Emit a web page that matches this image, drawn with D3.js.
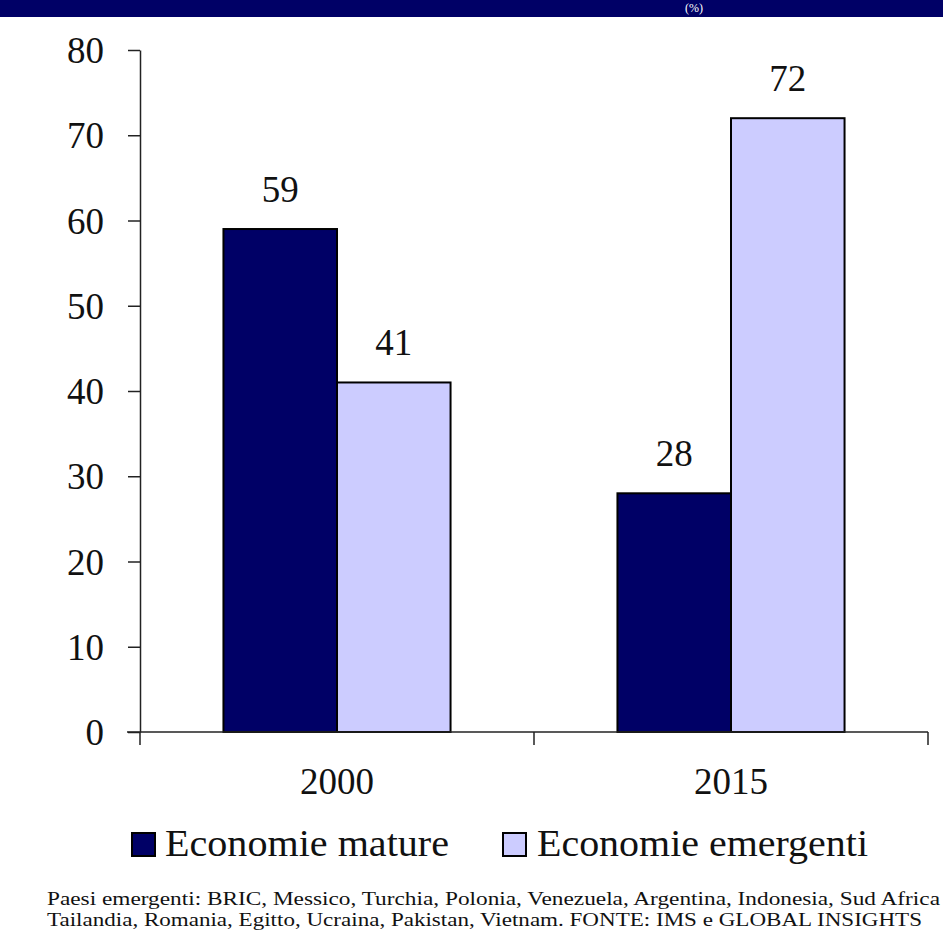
<!DOCTYPE html>
<html>
<head>
<meta charset="utf-8">
<script src="https://cdn.jsdelivr.net/npm/d3@7"></script>
<style>
  html, body { margin: 0; padding: 0; background: #fff; }
  svg { display: block; }
  text { font-family: "Liberation Serif", "Times New Roman", serif; fill: #111; }
</style>
</head>
<body>
<svg id="chart" width="943" height="932"></svg>
<script>
const categories = ["2000", "2015"];
const seriesNames = ["Economie mature", "Economie emergenti"];
const matureValues = [59, 28];
const emergingValues = [41, 72];
const yTicks = [0, 10, 20, 30, 40, 50, 60, 70, 80];
const titleFragment = "(%)";
const footnoteLines = [
  "Paesi emergenti: BRIC, Messico, Turchia, Polonia, Venezuela, Argentina, Indonesia, Sud Africa",
  "Tailandia, Romania, Egitto, Ucraina, Pakistan, Vietnam.  FONTE: IMS e GLOBAL INSIGHTS"
];

const colors = ["#000066", "#CCCCFF"];
const svg = d3.select("#chart");

// banner
svg.append("rect").attr("x", 0).attr("y", 0).attr("width", 943).attr("height", 17).attr("fill", "#000066");
svg.append("text").attr("x", 703).attr("y", 12).attr("text-anchor", "end")
  .attr("font-size", 12).style("fill", "#fff").text(titleFragment);

const x = d3.scaleBand().domain(categories).range([140, 928]).paddingInner(0).paddingOuter(0);
const xInner = d3.scaleBand().domain(seriesNames).range([0, x.bandwidth()]).paddingInner(0).paddingOuter(0.735);
const y = d3.scaleLinear().domain([0, 80]).range([732, 50]);

const data = categories.map((c, i) => ({cat: c, values: [matureValues[i], emergingValues[i]]}));

// bars
const groups = svg.append("g").selectAll("g").data(data).join("g")
  .attr("transform", d => `translate(${x(d.cat)},0)`);
groups.selectAll("rect").data(d => d.values.map((v, j) => ({name: seriesNames[j], v, j})))
  .join("rect")
  .attr("x", d => xInner(d.name))
  .attr("y", d => y(d.v))
  .attr("width", xInner.bandwidth())
  .attr("height", d => y(0) - y(d.v))
  .attr("fill", d => colors[d.j])
  .attr("stroke", "#000")
  .attr("stroke-width", 2);
groups.selectAll("text.val").data(d => d.values.map((v, j) => ({name: seriesNames[j], v, j})))
  .join("text").attr("class", "val")
  .attr("x", d => xInner(d.name) + xInner.bandwidth() / 2)
  .attr("y", d => y(d.v) - 27)
  .attr("text-anchor", "middle")
  .attr("font-size", 37)
  .text(d => d.v);

// y axis
const yAxis = svg.append("g").attr("transform", "translate(140,0)")
  .call(d3.axisLeft(y).tickValues(yTicks).tickSize(12).tickSizeOuter(0).tickPadding(24));
yAxis.select(".domain").attr("stroke", "#222").attr("stroke-width", 1.5);
yAxis.selectAll(".tick line").attr("stroke", "#222").attr("stroke-width", 1.5);
yAxis.selectAll(".tick text").attr("font-size", 37).attr("font-family", "Liberation Serif").style("fill", "#111")
  .attr("dy", "0.34em");

// x axis
const xg = svg.append("g");
xg.append("line").attr("x1", 127).attr("x2", x.range()[1]).attr("y1", y(0)).attr("y2", y(0))
  .attr("stroke", "#222").attr("stroke-width", 1.5);
const boundaries = categories.map(c => x(c)).concat([x(categories[categories.length - 1]) + x.bandwidth()]);
xg.selectAll("line.tk").data(boundaries).join("line").attr("class", "tk")
  .attr("x1", d => d).attr("x2", d => d).attr("y1", y(0)).attr("y2", y(0) + 13)
  .attr("stroke", "#222").attr("stroke-width", 1.5);
xg.selectAll("text").data(categories).join("text")
  .attr("x", d => x(d) + x.bandwidth() / 2)
  .attr("y", 794)
  .attr("text-anchor", "middle")
  .attr("font-size", 37)
  .text(d => d);

// legend
const legendPos = [{sx: 132, tx: 165, len: 284}, {sx: 503, tx: 537, len: 331}];
const lg = svg.append("g");
seriesNames.forEach((n, i) => {
  lg.append("rect").attr("x", legendPos[i].sx).attr("y", 833).attr("width", 23).attr("height", 23)
    .attr("fill", colors[i]).attr("stroke", "#000").attr("stroke-width", 2);
  lg.append("text").attr("x", legendPos[i].tx).attr("y", 856).attr("font-size", 37)
    .attr("textLength", legendPos[i].len).attr("lengthAdjust", "spacingAndGlyphs").text(n);
});

// footnote
const fnLen = [893, 875];
footnoteLines.forEach((t, i) => {
  svg.append("text").attr("x", 47).attr("y", 905 + i * 21).attr("font-size", 19)
    .attr("textLength", fnLen[i]).attr("lengthAdjust", "spacingAndGlyphs").text(t);
});
</script>
</body>
</html>
